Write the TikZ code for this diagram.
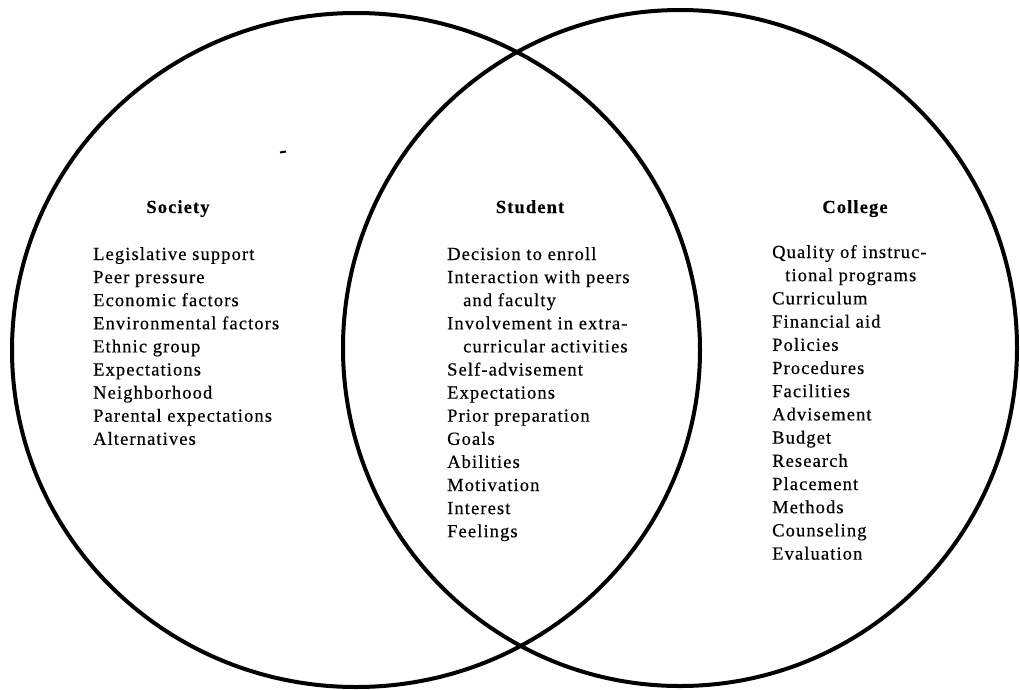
\documentclass[tikz,border=0pt]{standalone}
\usepackage{fontspec}
\setmainfont{Liberation Serif}[LetterSpace=6,FakeBold=0.4]
\begin{document}
\begin{tikzpicture}[x=1pt,y=-1pt,
  ring/.style={draw=black,line width=4pt},
  head/.style={font=\fontsize{18.5}{22}\selectfont\bfseries,anchor=base,inner sep=0pt},
  item/.style={font=\fontsize{18.5}{22}\selectfont,anchor=base west,inner sep=0pt}]
\useasboundingbox (0,0) rectangle (1020,689);

% the two overlapping circles
\draw[ring] (356,350) ellipse [x radius=344, y radius=337];
\draw[ring] (680,348) ellipse [x radius=337, y radius=338];

% small stray mark in the left circle
\draw[line width=2pt] (280,152.5) -- (286,151.5);

% headings
\node[head] (society) at (178,213) {Society};
\node[head] (student) at (530,213) {Student};
\node[head] (college) at (855,213) {College};

% Society factors
\foreach \t [count=\i] in {Legislative support, Peer pressure, Economic factors,
    Environmental factors, Ethnic group, Expectations, Neighborhood,
    Parental expectations, Alternatives}
  \node[item] (soc\i) at (93,{260+23.1*(\i-1)}) {\t};

% Student factors
\foreach \t [count=\i] in {Decision to enroll, Interaction with peers,
    {\hspace*{16pt}and faculty}, Involvement in extra-,
    {\hspace*{16pt}curricular activities}, Self-advisement, Expectations,
    Prior preparation, Goals, Abilities, Motivation, Interest, Feelings}
  \node[item] (stu\i) at (447,{260+23.1*(\i-1)}) {\t};

% College factors
\foreach \t [count=\i] in {Quality of instruc-, {\hspace*{13pt}tional programs},
    Curriculum, Financial aid, Policies, Procedures, Facilities, Advisement,
    Budget, Research, Placement, Methods, Counseling, Evaluation}
  \node[item] (col\i) at (772,{258+23.2*(\i-1)}) {\t};
\end{tikzpicture}
\end{document}
